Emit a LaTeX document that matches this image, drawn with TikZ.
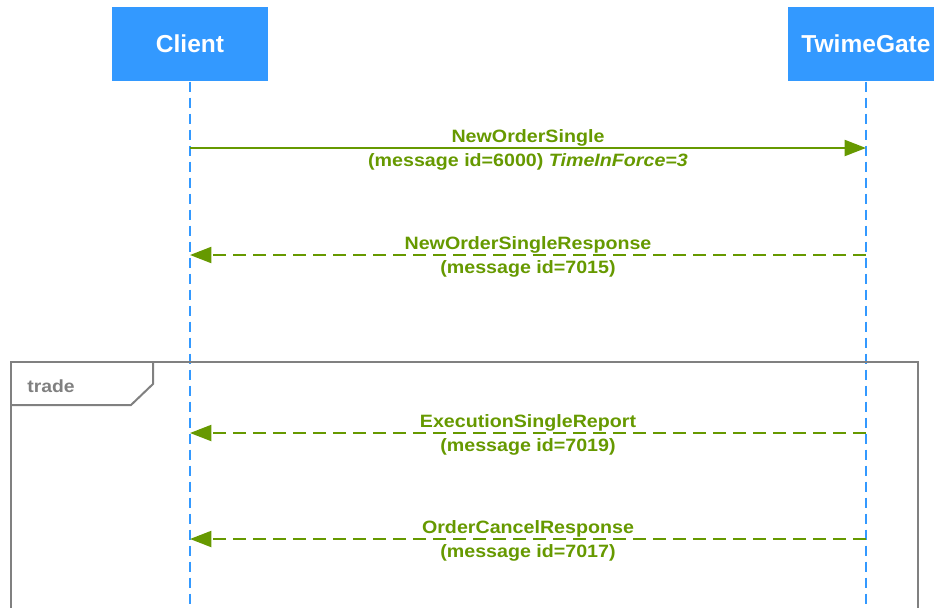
\documentclass[tikz,border=0pt]{standalone}
\usepackage{fontspec}
\setmainfont{Liberation Sans}
\newfontfamily\msgfont{Liberation Sans}[FakeStretch=1.1]
\usepackage{tikz}
\usetikzlibrary{arrows.meta,positioning}
\definecolor{lifeblue}{HTML}{3399FF}
\definecolor{msggreen}{HTML}{669900}
\definecolor{framegray}{HTML}{808080}
\tikzset{
  actor/.style={fill=lifeblue,text=white,font=\bfseries\fontsize{18.4}{22}\selectfont,
    minimum width=117pt,minimum height=55.9pt,inner sep=0pt},
  lifeline/.style={lifeblue,line width=1pt,dash pattern=on 7.5pt off 4.5pt},
  msg/.style={msggreen,line width=1.5pt,-{Triangle[length=16pt,width=12pt]}},
  reply/.style={msg,dash pattern=on 10pt off 5pt},
  msglabel/.style={text=msggreen,font=\msgfont\bfseries\fontsize{13.4}{18}\selectfont,
    align=center,inner sep=0pt,yshift=-1.5pt},
  fragment/.style={framegray,line width=1.5pt},
}

\begin{document}
\begin{tikzpicture}[x=0.75pt,y=-0.75pt]
\useasboundingbox (0,0) rectangle (934,607);
\node[actor] (client) at (190,44) {Client};
\node[actor] (gate) at (866,44) {TwimeGate};
% lifelines
\coordinate (clientend) at (190,612);
\coordinate (gateend) at (866,612);
\draw[lifeline] (client.south) -- (clientend);
\draw[lifeline] (gate.south) -- (gateend);
% trade fragment
\draw[fragment] (11,625) -- (11,362) -- (918,362) -- (918,625);
\draw[fragment] (11,405) -- (131,405) -- (153,384) -- (153,362);
\node[msglabel,text=framegray,font=\msgfont\bfseries\fontsize{13.2}{15}\selectfont] (trade) at (51,384) {trade};
% message points on the lifelines
\foreach \y/\k in {148/1,255/2,433/3,539/4}{
  \coordinate (c\k) at (190,\y);
  \coordinate (g\k) at (866,\y);
}
\draw[msg] (c1) -- (g1) node[msglabel,midway] (m1) {NewOrderSingle\\(message id=6000) {\itshape TimeInForce=3}};
\draw[reply] (g2) -- (c2) node[msglabel,midway] (m2) {NewOrderSingleResponse\\(message id=7015)};
\draw[reply] (g3) -- (c3) node[msglabel,midway] (m3) {ExecutionSingleReport\\(message id=7019)};
\draw[reply] (g4) -- (c4) node[msglabel,midway] (m4) {OrderCancelResponse\\(message id=7017)};
\end{tikzpicture}
\end{document}
